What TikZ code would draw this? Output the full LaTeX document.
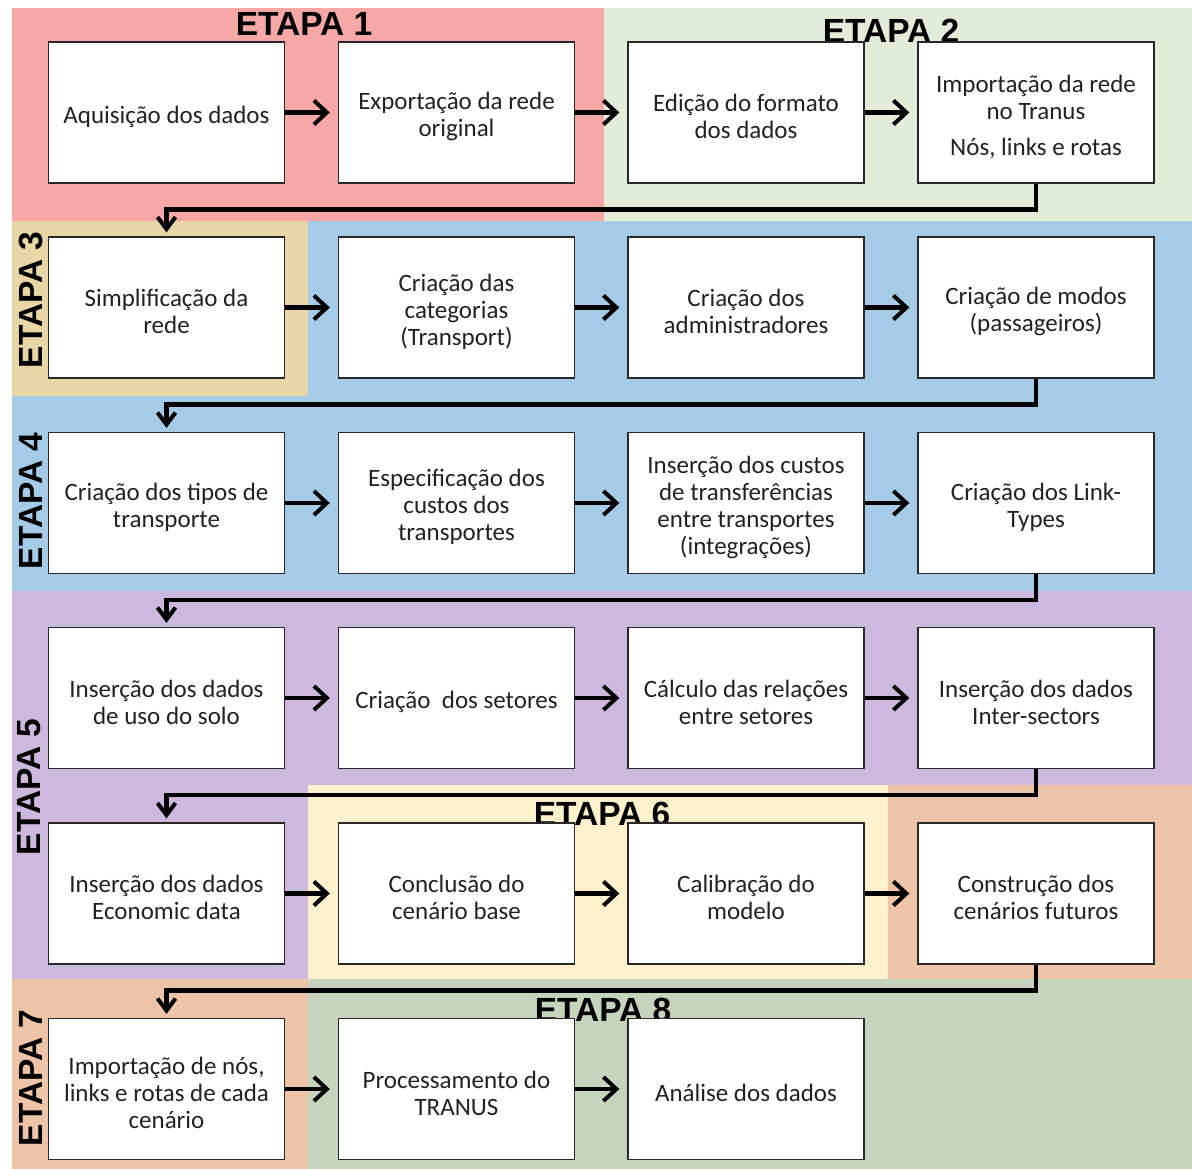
\documentclass[tikz,border=0pt]{standalone}
\usepackage{fontspec}
\setmainfont{Carlito}
\newfontfamily\etapafont{Liberation Sans}
\usetikzlibrary{arrows.meta}

\definecolor{cPink}{RGB}{247,168,166}
\definecolor{cMint}{RGB}{226,236,217}
\definecolor{cTan}{RGB}{233,214,167}
\definecolor{cBlue}{RGB}{166,203,230}
\definecolor{cLilac}{RGB}{205,184,222}
\definecolor{cCream}{RGB}{252,240,205}
\definecolor{cPeach}{RGB}{237,196,168}
\definecolor{cSage}{RGB}{198,212,190}
\definecolor{cText}{RGB}{34,34,34}
\definecolor{cEdge}{RGB}{40,40,40}

\tikzset{
  stepbox/.style={draw=cEdge, line width=1.3pt, fill=white, minimum width=236pt,
    minimum height=141pt, inner sep=0pt},
  steptext/.style={align=center, inner sep=0pt, text=cText, yshift=-4pt,
    font=\fontsize{25}{27}\selectfont},
  etapa/.style={font=\etapafont\bfseries\fontsize{33.5}{36}\selectfont, inner sep=0pt, text=black},
  flow/.style={line width=4.5pt, -{Straight Barb[length=13pt,width=24pt,line width=4pt]}, shorten >=8pt},
  back/.style={line width=4.5pt, -{Straight Barb[length=12pt,width=18pt,line width=4pt]}, shorten >=4pt}
}
% a framed step with its (multi-line) caption
\newcommand{\stepnode}[3]{%
  \node[stepbox, label={[steptext]center:{#3}}] (#1) at (#2) {};}

\begin{document}
\begin{tikzpicture}[x=1pt,y=-1pt]
% canvas
\fill[white] (0,0) rectangle (1192,1169);
\useasboundingbox (0,0) rectangle (1192,1169);

% stage backgrounds
\fill[cPink]  (12,8)    rectangle (604,221);
\fill[cMint]  (604,8)   rectangle (1192,221);
\fill[cTan]   (12,221)  rectangle (308,396);
\fill[cBlue]  (308,221) rectangle (1192,396);
\fill[cBlue]  (12,396)  rectangle (1192,591);
\fill[cLilac] (12,591)  rectangle (1192,785);
\fill[cLilac] (12,785)  rectangle (308,979);
\fill[cCream] (308,785) rectangle (888,979);
\fill[cPeach] (888,785) rectangle (1192,979);
\fill[cPeach] (12,979)  rectangle (308,1169);
\fill[cSage]  (308,979) rectangle (1192,1169);

% stage titles
\node[etapa, anchor=base] (e1) at (304,36) {ETAPA 1};
\node[etapa, anchor=base] (e2) at (891,43) {ETAPA 2};
\node[etapa, anchor=base] (e6) at (602,825) {ETAPA 6};
\node[etapa, anchor=base] (e8) at (603,1021) {ETAPA 8};
\node[etapa, rotate=90, anchor=base] (e3) at (42,300) {ETAPA 3};
\node[etapa, rotate=90, anchor=base] (e4) at (42,501) {ETAPA 4};
\node[etapa, rotate=90, anchor=base] (e5) at (40,787) {ETAPA 5};
\node[etapa, rotate=90, anchor=base] (e7) at (42,1078) {ETAPA 7};

% row 1
\stepnode{a1}{166.5,112.5}{Aquisição dos dados}
\stepnode{a2}{456.5,112.5}{Exportação da rede\\original}
\stepnode{a3}{746,112.5}{Edição do formato\\dos dados}
\stepnode{a4}{1036,112.5}{Importação da rede\\no Tranus\\[9pt]Nós, links e rotas}
% row 2
\stepnode{b1}{166.5,307.5}{Simplificação da\\rede}
\stepnode{b2}{456.5,307.5}{Criação das\\categorias\\(Transport)}
\stepnode{b3}{746,307.5}{Criação dos\\administradores}
\stepnode{b4}{1036,307.5}{Criação de modos\\(passageiros)}
% row 3
\stepnode{c1}{166.5,503}{Criação dos tipos de\\transporte}
\stepnode{c2}{456.5,503}{Especificação dos\\custos dos\\transportes}
\stepnode{c3}{746,503}{Inserção dos custos\\de transferências\\entre transportes\\(integrações)}
\stepnode{c4}{1036,503}{Criação dos Link-\\Types}
% row 4
\stepnode{d1}{166.5,698}{Inserção dos dados\\de uso do solo}
\stepnode{d2}{456.5,698}{Criação\ \ dos setores}
\stepnode{d3}{746,698}{Cálculo das relações\\entre setores}
\stepnode{d4}{1036,698}{Inserção dos dados\\Inter-sectors}
% row 5
\stepnode{f1}{166.5,893.5}{Inserção dos dados\\Economic data}
\stepnode{f2}{456.5,893.5}{Conclusão do\\cenário base}
\stepnode{f3}{746,893.5}{Calibração do\\modelo}
\stepnode{f4}{1036,893.5}{Construção dos\\cenários futuros}
% row 6
\stepnode{g1}{166.5,1089}{Importação de nós,\\links e rotas de cada\\cenário}
\stepnode{g2}{456.5,1089}{Processamento do\\TRANUS}
\stepnode{g3}{746,1089}{Análise dos dados}

% arrows along each row
\foreach \r in {a,b,c,d,f}{
  \draw[flow] (\r1.east) -- (\r2.west);
  \draw[flow] (\r2.east) -- (\r3.west);
  \draw[flow] (\r3.east) -- (\r4.west);
}
\draw[flow] (g1.east) -- (g2.west);
\draw[flow] (g2.east) -- (g3.west);

% returns to the start of the next row
\draw[back] (a4.south) -- ++(0,26) -| (b1.north);
\draw[back] (b4.south) -- ++(0,26) -| (c1.north);
\draw[back] (c4.south) -- ++(0,26) -| (d1.north);
\draw[back] (d4.south) -- ++(0,26) -| (f1.north);
\draw[back] (f4.south) -- ++(0,26) -| (g1.north);
\end{tikzpicture}
\end{document}
